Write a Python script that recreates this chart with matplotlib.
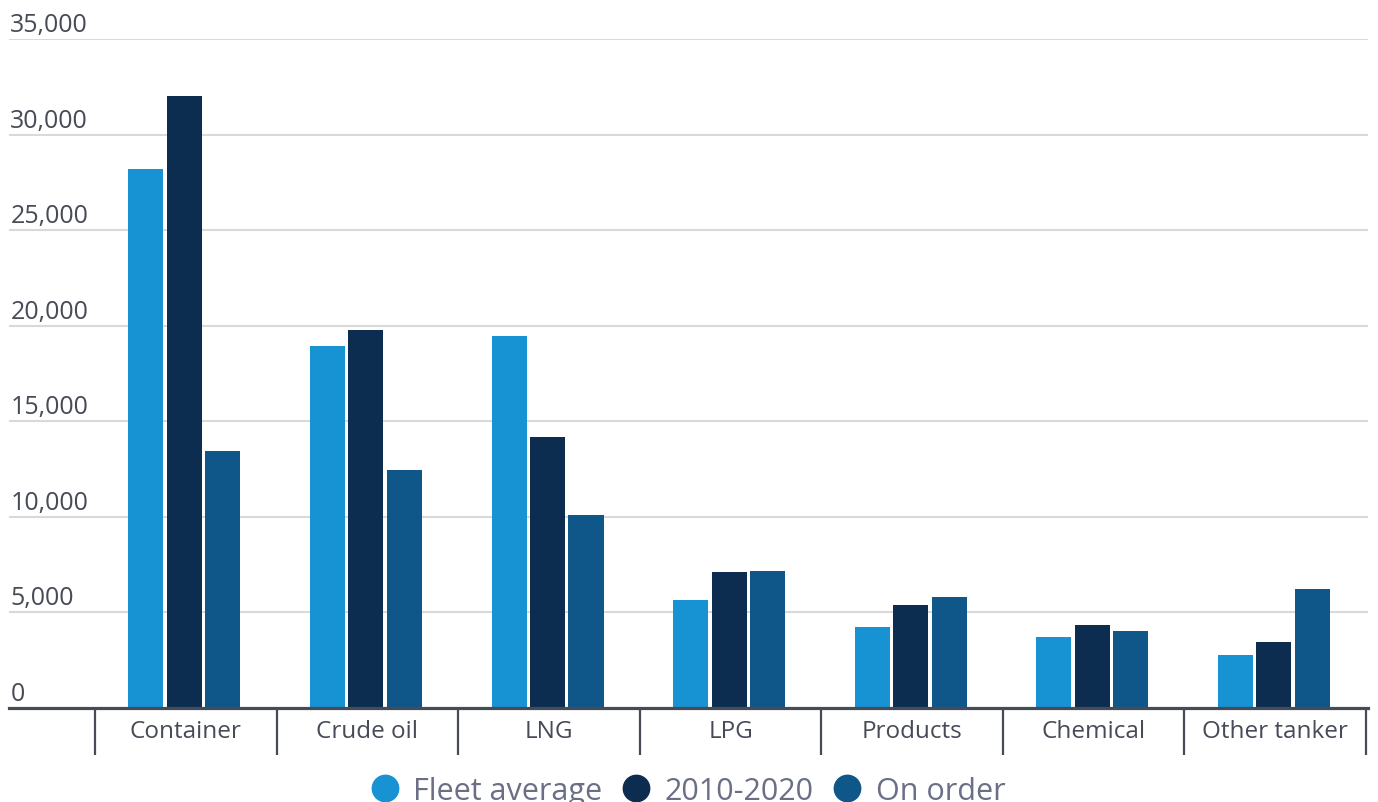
import matplotlib
matplotlib.use("Agg")
import matplotlib.pyplot as plt
import matplotlib.transforms as mtransforms
from matplotlib.lines import Line2D
import numpy as np

# data
categories = ["Container", "Crude oil", "LNG", "LPG", "Products", "Chemical", "Other tanker"]
fleet_average = [28200, 18950, 19450, 5650, 4250, 3700, 2780]
period_2010_2020 = [32000, 19800, 14200, 7120, 5400, 4350, 3450]
on_order = [13450, 12450, 10100, 7170, 5800, 4030, 6230]
series_names = ["Fleet average", "2010-2020", "On order"]
y_ticks = [0, 5000, 10000, 15000, 20000, 25000, 30000, 35000]

colors = ["#1792D2", "#0C2D4F", "#0F5789"]
text_col = "#474A57"
legend_col = "#6B6F85"

plt.rcParams["font.family"] = ["Open Sans", "DejaVu Sans"]

fig = plt.figure(figsize=(13.78, 8.03), dpi=100)
W, H = 1378, 803
# axes: left 9px, right 1368px, bottom at y=709, top (35,000) at y=40
ax = fig.add_axes([9 / W, (H - 709) / H, (1368 - 9) / W, (709 - 40) / H])

x = np.arange(len(categories))
bw = 0.193
step = 0.212
for i, (vals, name) in enumerate(zip([fleet_average, period_2010_2020, on_order], series_names)):
    ax.bar(x + (i - 1) * step - 0.008, vals, width=bw, color=colors[i], label=name, zorder=3)

ax.set_xlim(-0.974, 6.511)
ax.set_ylim(0, 35000)

# gridlines
for v in y_ticks[1:]:
    ax.axhline(v, color="#D9D9D9", lw=1.5, zorder=1)

# y labels sit above the gridlines, left aligned
ax.set_yticks([])
off = mtransforms.offset_copy(ax.transData, fig=fig, x=0, y=8, units="dots")
blend = mtransforms.blended_transform_factory(ax.transAxes, off)
for v in y_ticks:
    ax.text(0.001, v, f"{v:,}", transform=blend, ha="left", va="baseline",
            fontsize=18, color=text_col)

for s in ["top", "right", "left"]:
    ax.spines[s].set_visible(False)
ax.spines["bottom"].set_color(text_col)
ax.spines["bottom"].set_linewidth(2.3)
ax.spines["bottom"].set_zorder(4)

ax.set_xticks(x)
ax.set_xticklabels(categories, fontsize=17.5, color=text_col)
ax.tick_params(axis="x", which="major", length=0, pad=8)
ax.set_xticks(np.arange(-0.5, len(categories)), minor=True)
ax.tick_params(axis="x", which="minor", length=34, width=1.6, color=text_col, direction="out")

handles = [Line2D([0], [0], marker="o", linestyle="none", markersize=19,
                  markerfacecolor=c, markeredgecolor=c) for c in colors]
leg = fig.legend(handles, series_names, loc="center", bbox_to_anchor=(686 / W, 1 - 792 / H),
                 ncol=3, frameon=False, fontsize=22, handletextpad=0.34, columnspacing=0.5,
                 handlelength=1.2)
for t in leg.get_texts():
    t.set_color(legend_col)

fig.savefig("out.png", dpi=100)
